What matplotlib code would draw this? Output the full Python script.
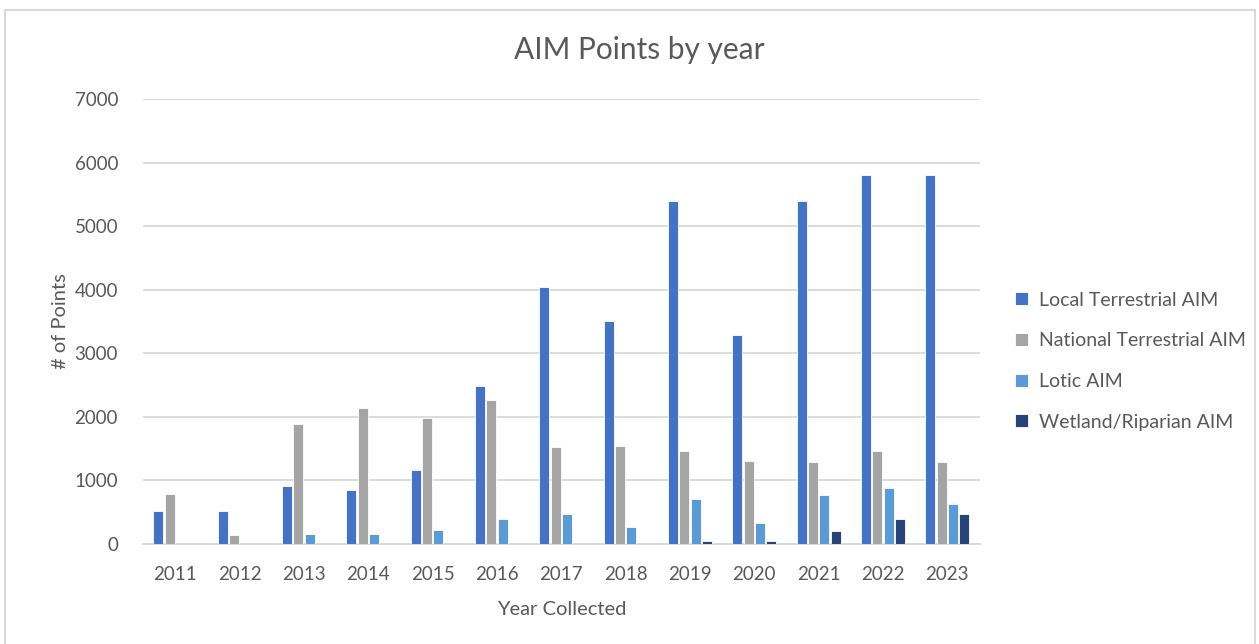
import matplotlib.pyplot as plt
import numpy as np
from matplotlib.patches import Rectangle

# data
years = ['2011', '2012', '2013', '2014', '2015', '2016', '2017',
         '2018', '2019', '2020', '2021', '2022', '2023']
local_terr = [520, 520, 920, 845, 1160, 2490, 4050, 3500, 5400, 3290, 5400, 5800, 5800]
national_terr = [790, 135, 1885, 2140, 1980, 2270, 1520, 1540, 1470, 1300, 1285, 1470, 1285]
lotic = [0, 0, 155, 155, 225, 390, 465, 265, 715, 335, 775, 885, 625]
wetland = [0, 0, 0, 0, 0, 0, 0, 0, 42, 42, 205, 395, 465]

series = ['Local Terrestrial AIM', 'National Terrestrial AIM', 'Lotic AIM', 'Wetland/Riparian AIM']
colors = ['#4472C4', '#A5A5A5', '#5B9BD5', '#264478']

plt.rcParams['font.family'] = ['Lato', 'DejaVu Sans']
txt = '#595959'

fig = plt.figure(figsize=(12.59, 6.44), dpi=100)
ax = fig.add_axes([0.1136, 0.1553, 0.6644, 0.691])

# outer frame like the screenshot
fig.patches.append(Rectangle((5 / 1259, -0.05), 1250 / 1259, 1 - 10 / 644 + 0.05,
                             transform=fig.transFigure, fill=False,
                             edgecolor='#d9d9d9', linewidth=1.5))

x = np.arange(len(years))
w = 0.155
step = 0.175
for i, (vals, lab, c) in enumerate(zip([local_terr, national_terr, lotic, wetland], series, colors)):
    ax.bar(x + (i - 1.5) * step, vals, width=w, color=c, label=lab,
           edgecolor='white', linewidth=0.6, zorder=3)

ax.set_xlim(-0.5, len(years) - 0.5)
ax.set_ylim(0, 7000)
ax.set_yticks(range(0, 7001, 1000))
ax.set_xticks(x)
ax.set_xticklabels(years)
ax.grid(axis='y', color='#d9d9d9', linewidth=1.3, zorder=0)
for s in ['top', 'right', 'left']:
    ax.spines[s].set_visible(False)
ax.spines['bottom'].set_color('#d9d9d9')
ax.spines['bottom'].set_linewidth(1.3)
ax.tick_params(length=0, labelsize=13.5, colors=txt)
ax.tick_params(axis='x', pad=16)
ax.tick_params(axis='y', pad=18)

ax.set_xlabel('Year Collected', fontsize=14.5, color=txt, labelpad=13)
ax.set_ylabel('# of Points', fontsize=14.5, color=txt, labelpad=4)
fig.text(0.508, 0.922, 'AIM Points by year', ha='center', va='center',
         fontsize=21.5, color=txt)

leg = ax.legend(loc='center left', bbox_to_anchor=(1.022, 0.411), frameon=False,
                fontsize=14, handlelength=0.65, handleheight=0.65,
                handletextpad=0.55, labelspacing=1.22)
for t in leg.get_texts():
    t.set_color(txt)

fig.savefig('out.png', dpi=100)
